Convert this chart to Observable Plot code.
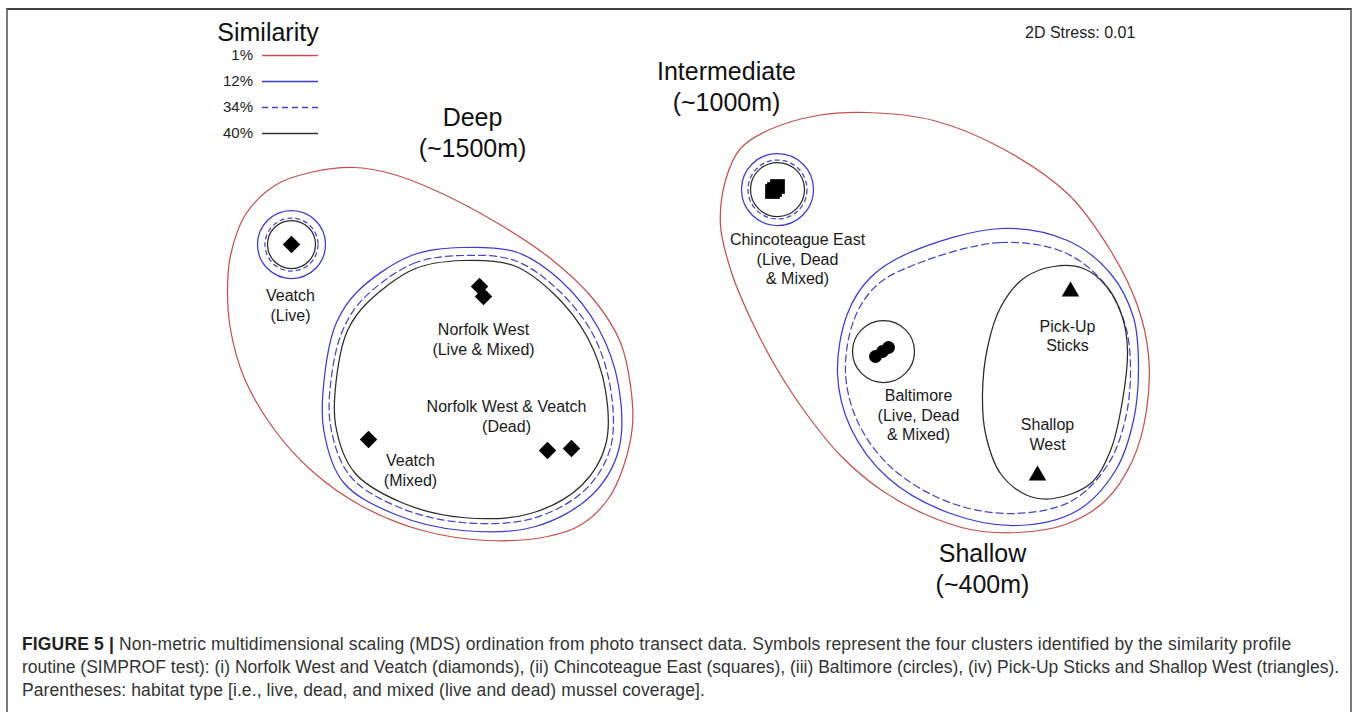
<!DOCTYPE html>
<html>
<head>
<meta charset="utf-8">
<script src="https://cdn.jsdelivr.net/npm/d3@7"></script>
<script src="https://cdn.jsdelivr.net/npm/@observablehq/plot@0.6"></script>
<style>
  html, body { margin: 0; padding: 0; background: #fff; }
  body { width: 1360px; height: 712px; overflow: hidden; position: relative; font-family: "Liberation Sans", Arial, sans-serif; }
  #frame { position: absolute; left: 6px; top: 8px; width: 1346px; height: 720px; border-top: 2px solid #444; border-left: 2px solid #7a7a7a; border-right: 2px solid #7a7a7a; box-sizing: border-box; pointer-events: none; }
  #chart { position: absolute; left: 0; top: 0; }
  #legend { position: absolute; left: 0; top: 0; width: 400px; height: 150px; }
  .legtitle { position: absolute; left: 208px; width: 120px; text-align: center; font-size: 25px; color: #111; line-height: 28px; }
  .legrow { position: absolute; height: 20px; line-height: 20px; font-size: 15px; color: #222; }
  .legrow span { position: absolute; width: 60px; text-align: right; }
  #stress { position: absolute; left: 1025px; top: 23px; font-size: 16px; color: #222; line-height: 20px; }
  #caption { position: absolute; left: 22px; top: 633px; width: 1330px; font-size: 17.5px; line-height: 23px; color: #333; white-space: nowrap; }
  #caption div { height: 23px; }
  #caption b { color: #222; }
</style>
</head>
<body>
<div id="chart"></div>
<div id="legend"></div>
<div id="stress"></div>
<div id="frame"></div>
<div id="caption"><div style="letter-spacing:0.15px"><b>FIGURE 5 |</b> Non-metric multidimensional scaling (MDS) ordination from photo transect data. Symbols represent the four clusters identified by the similarity profile</div><div style="letter-spacing:0px">routine (SIMPROF test): (i) Norfolk West and Veatch (diamonds), (ii) Chincoteague East (squares), (iii) Baltimore (circles), (iv) Pick-Up Sticks and Shallop West (triangles).</div><div style="letter-spacing:0.1px">Parentheses: habitat type [i.e., live, dead, and mixed (live and dead) mussel coverage].</div></div>
<script>
// ---------- data (MDS ordination, arbitrary units) ----------
const diamonds = [
  {site: "Veatch (Live)", x: 291, y: 244},
  {site: "Norfolk West (Live)", x: 479, y: 286},
  {site: "Norfolk West (Mixed)", x: 483, y: 296},
  {site: "Veatch (Mixed)", x: 368, y: 439},
  {site: "Norfolk West (Dead)", x: 547, y: 450},
  {site: "Veatch (Dead)", x: 571, y: 448}
];
const squares = [
  {site: "Chincoteague East (Live)", x: 777, y: 186},
  {site: "Chincoteague East (Dead)", x: 772, y: 191},
  {site: "Chincoteague East (Mixed)", x: 774, y: 189}
];
const circles = [
  {site: "Baltimore (Live)", x: 875, y: 356},
  {site: "Baltimore (Dead)", x: 882, y: 351},
  {site: "Baltimore (Mixed)", x: 888, y: 347}
];
const triangles = [
  {site: "Pick-Up Sticks", x: 1070, y: 291},
  {site: "Shallop West", x: 1037, y: 475}
];

// single-site cluster centres (rings drawn around them)
const ringVeatch = [{x: 291, y: 244}];
const ringChinco = [{x: 777, y: 189}];
const ringBaltimore = [{x: 883, y: 351}];

// similarity contours (outline points)
const deepRed = [[227,289],[230,255],[245,214],[276,184],[310,172],[354,167],[390,173],[435,190],[496,222],[550,258],[594,300],[620,342],[630,385],[632,425],[623,466],[608,498],[581,524],[547,536],[487,540],[422,530],[362,506],[312,471],[273,428],[244,378],[230,329]];
const deepBlue = [[357,291],[411,255],[462,247],[517,252],[560,280],[598,328],[618,385],[618,450],[591,495],[535,526],[462,530],[395,514],[343,482],[323,428],[325,368],[336,322]];
const deepDashed = [[363,298],[413,263],[462,255],[514,260],[556,288],[592,333],[610,388],[610,447],[585,489],[532,518],[462,522],[399,507],[350,476],[330,425],[332,369],[343,328]];
const deepBlack = [[367,302],[415,268],[462,260],[513,265],[553,293],[587,337],[605,390],[605,445],[581,485],[530,513],[462,517],[401,502],[354,472],[335,424],[337,370],[347,330]];

const interRed = [[720,225],[725,180],[740,148],[767,130],[817,115],[867,112],[933,120],[1000,147],[1067,193],[1110,250],[1137,305],[1148,355],[1146,410],[1132,460],[1105,500],[1065,524],[1017,532],[970,529],[925,514],[880,489],[840,455],[805,412],[775,366],[750,318],[731,272]];
const shallowBlue = [[907,253],[1000,228],[1067,240],[1110,273],[1133,317],[1138,367],[1133,420],[1115,470],[1077,510],[1017,525],[950,513],[887,477],[850,427],[837,373],[847,313],[870,277]];
const shallowDashed = [[912,265],[1000,242],[1064,252],[1103,282],[1124,322],[1130,367],[1125,418],[1108,463],[1072,500],[1015,513],[952,503],[893,469],[858,423],[845,372],[854,318],[876,285]];
const pickupBlack = [[1083,268],[1107,287],[1122,317],[1127,350],[1122,400],[1110,450],[1090,483],[1053,498],[1027,495],[1000,473],[985,433],[982,393],[987,347],[1000,307],[1023,278],[1053,266]];

const siteLabels = [
  {text: "Veatch\n(Live)", x: 290, y: 304},
  {text: "Norfolk West\n(Live & Mixed)", x: 483, y: 338},
  {text: "Norfolk West & Veatch\n(Dead)", x: 506, y: 415},
  {text: "Veatch\n(Mixed)", x: 410, y: 469},
  {text: "Chincoteague East\n(Live, Dead\n& Mixed)", x: 797, y: 258},
  {text: "Pick-Up\nSticks", x: 1067, y: 334.5},
  {text: "Baltimore\n(Live, Dead\n& Mixed)", x: 918, y: 414},
  {text: "Shallop\nWest", x: 1047, y: 433}
];
const groupLabels = [
  {text: "Deep\n(~1500m)", x: 472, y: 131},
  {text: "Intermediate\n(~1000m)", x: 726, y: 85},
  {text: "Shallow\n(~400m)", x: 982, y: 567}
];

const legendLabels = ["1%", "12%", "34%", "40%"];
const legendColors = ["#c4504e", "#3b3bcf", "#4646c8", "#333333"];
const legendDash = [null, null, "6,4", null];
const stressText = "2D Stress: 0.01";

// ---------- styles ----------
const RED = "#c4504e", BLUE = "#3b3bcf", DBLUE = "#4646c8", BLACK = "#2a2a2a";
const SW = 1.25;
const curve = "catmull-rom-closed";
const px = d => d[0], py = d => d[1];

const chart = Plot.plot({
  width: 1360,
  height: 600,
  margin: 0,
  x: {domain: [0, 1360], axis: null},
  y: {domain: [0, 600], range: [0, 600], axis: null},
  style: {fontFamily: "'Liberation Sans', Arial, sans-serif", background: "transparent"},
  marks: [
    Plot.line(deepRed, {x: px, y: py, curve, stroke: RED, strokeWidth: SW}),
    Plot.line(interRed, {x: px, y: py, curve, stroke: RED, strokeWidth: SW}),
    Plot.line(deepBlue, {x: px, y: py, curve, stroke: BLUE, strokeWidth: SW}),
    Plot.line(shallowBlue, {x: px, y: py, curve, stroke: BLUE, strokeWidth: SW}),
    Plot.line(deepDashed, {x: px, y: py, curve, stroke: DBLUE, strokeWidth: SW, strokeDasharray: "7,4"}),
    Plot.line(shallowDashed, {x: px, y: py, curve, stroke: DBLUE, strokeWidth: SW, strokeDasharray: "7,4"}),
    Plot.line(deepBlack, {x: px, y: py, curve, stroke: BLACK, strokeWidth: SW}),
    Plot.line(pickupBlack, {x: px, y: py, curve, stroke: BLACK, strokeWidth: SW}),
    // rings for single-site clusters
    Plot.dot(ringVeatch, {x: "x", y: "y", r: 34, stroke: BLUE, strokeWidth: SW}),
    Plot.dot(ringVeatch, {x: "x", y: "y", r: 26.5, stroke: DBLUE, strokeWidth: SW, strokeDasharray: "5,3"}),
    Plot.dot(ringVeatch, {x: "x", y: "y", r: 24, stroke: BLACK, strokeWidth: SW}),
    Plot.dot(ringChinco, {x: "x", y: "y", r: 36, stroke: BLUE, strokeWidth: SW}),
    Plot.dot(ringChinco, {x: "x", y: "y", r: 29.5, stroke: DBLUE, strokeWidth: SW, strokeDasharray: "5,3"}),
    Plot.dot(ringChinco, {x: "x", y: "y", r: 27, stroke: BLACK, strokeWidth: SW}),
    Plot.dot(ringBaltimore, {x: "x", y: "y", r: 31, stroke: BLACK, strokeWidth: SW}),
    // samples
    Plot.dot(diamonds, {x: "x", y: "y", symbol: "diamond2", r: 7.9, fill: "#000", stroke: "none"}),
    Plot.dot(squares, {x: "x", y: "y", symbol: "square", r: 8.3, fill: "#000", stroke: "none"}),
    Plot.dot(circles, {x: "x", y: "y", symbol: "circle", r: 6.5, fill: "#000", stroke: "none"}),
    Plot.dot(triangles, {x: "x", y: "y", symbol: "triangle", r: 6.5, fill: "#000", stroke: "none"}),
    // labels
    Plot.text(siteLabels, {x: "x", y: "y", text: "text", fontSize: 16, lineHeight: 1.22, fill: "#1a1a1a"}),
    Plot.text(groupLabels, {x: "x", y: "y", text: "text", fontSize: 25, lineHeight: 1.24, fill: "#111"})
  ]
});
document.getElementById("chart").appendChild(chart);

// ---------- legend ----------
const leg = document.getElementById("legend");
const t = document.createElement("div");
t.className = "legtitle";
t.style.top = "18px";
t.textContent = "Similarity";
leg.appendChild(t);
const rowCenters = [55, 81, 107, 133];
legendLabels.forEach((lab, i) => {
  const row = document.createElement("div");
  row.className = "legrow";
  row.style.left = "0px";
  row.style.width = "400px";
  row.style.top = (rowCenters[i] - 10) + "px";
  const s = document.createElement("span");
  s.textContent = lab;
  s.style.left = "193px";
  row.appendChild(s);
  const svg = d3.create("svg").attr("width", 58).attr("height", 20)
    .style("position", "absolute").style("left", "261px").style("top", "0px");
  svg.append("line").attr("x1", 1).attr("x2", 57).attr("y1", 10.5).attr("y2", 10.5)
    .attr("stroke", legendColors[i]).attr("stroke-width", 1.4)
    .attr("stroke-dasharray", legendDash[i]);
  row.appendChild(svg.node());
  leg.appendChild(row);
});
document.getElementById("stress").textContent = stressText;
</script>
</body>
</html>
